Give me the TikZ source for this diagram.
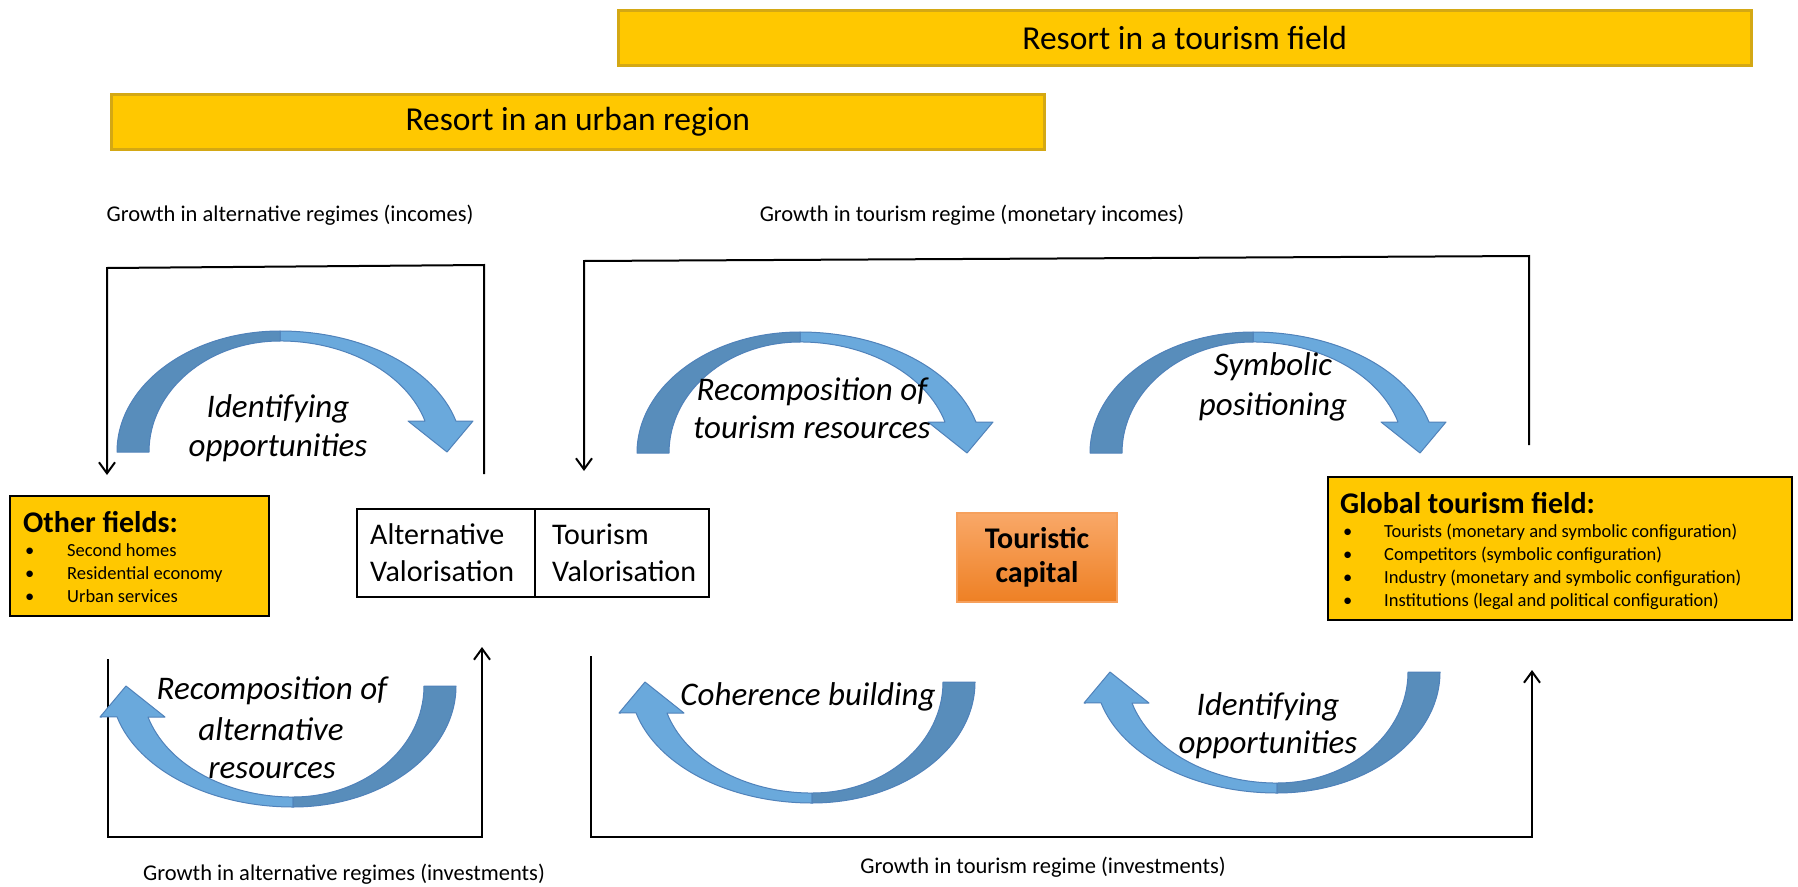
\documentclass[tikz,border=0pt]{standalone}
\usepackage{fontspec}
\setmainfont{Carlito}
\usetikzlibrary{arrows.meta}

\definecolor{gold}{RGB}{255,200,0}
\definecolor{goldedge}{RGB}{212,168,20}
\definecolor{arcdark}{RGB}{88,141,187}
\definecolor{arclight}{RGB}{106,169,220}
\definecolor{arcedge}{RGB}{80,130,186}
\definecolor{orangetop}{RGB}{249,168,104}
\definecolor{orangebot}{RGB}{238,128,36}
\definecolor{orangeedge}{RGB}{246,160,92}

% one bullet line of a field box
\newcommand\bulletline[2]{\makebox[#1][l]{\textbullet}#2}

\tikzset{
  % ribbon-like curved arrow: tail at the origin, bending up, head on the right
  curvedarrow/.pic={
    \path[arcfront] (163,-121)
      arc[start angle=270, end angle=345.2, x radius=182, y radius=121]
      -- (356,-31) -- (330,0) -- (291,-31) -- (308,-31)
      arc[start angle=343.8, end angle=270, x radius=151, y radius=111]
      -- cycle;
    \path[arcback] (0,0)
      arc[start angle=180, end angle=270, x radius=163, y radius=121]
      -- (163,-111)
      arc[start angle=270, end angle=180, x radius=131, y radius=111]
      -- cycle;
  }
}

\begin{document}
\begin{tikzpicture}[x=1pt,y=-1pt,
  banner/.style={fill=gold, draw=goldedge, line width=2.5pt, inner sep=0pt,
    font=\fontsize{33.5}{40}\selectfont},
  fieldbox/.style={fill=gold, draw=black, line width=2pt, inner sep=0pt, anchor=north west},
  valbox/.style={draw=black, line width=2pt, inner sep=0pt, anchor=north west, minimum height=88pt},
  capbox/.style={draw=orangeedge, line width=1.5pt, top color=orangetop, bottom color=orangebot,
    inner sep=0pt, minimum width=160pt, minimum height=89pt,
    font=\fontsize{30}{34}\selectfont\bfseries, align=center},
  boxtext/.style={font=\fontsize{30}{36}\selectfont, inner sep=0pt, anchor=base west},
  fieldtitle/.style={font=\fontsize{30}{36}\selectfont\bfseries, inner sep=0pt, anchor=base west},
  fielditem/.style={font=\fontsize{18.5}{22}\selectfont, inner sep=0pt, anchor=base west},
  flowlabel/.style={font=\fontsize{22.5}{27}\selectfont, inner sep=0pt, text height=16pt, text depth=5pt},
  arcline/.style={font=\fontsize{33}{39}\selectfont\itshape, inner sep=0pt, text height=24pt, text depth=8pt},
  loopline/.style={draw=black, line width=2pt, line join=miter},
  looparrow/.style={loopline, -{Straight Barb[length=11pt,width=16pt]}},
  arcfront/.style={fill=arclight, draw=arcedge, line width=1pt, line join=round},
  arcback/.style={fill=arcdark, draw=arcedge, line width=1pt, line join=round},
]
\useasboundingbox (0,0) rectangle (1798,886);
\fill[white] (0,0) rectangle (1798,886);

% banners
\node[banner, minimum width=1133pt, minimum height=55pt, anchor=north west] (fieldbanner) at (617,9) {Resort in a tourism field};
\node[banner, minimum width=933pt, minimum height=55pt, anchor=north west] (urbanbanner) at (110,93) {Resort in an urban region};

% feedback loops
\coordinate (ti1) at (484,474);
\coordinate (ti2) at (484,265);
\coordinate (ti3) at (107,268);
\coordinate (ti4) at (107,475);
\draw[looparrow] (ti1) -- (ti2) -- (ti3) -- (ti4);

\coordinate (tt1) at (1529,445);
\coordinate (tt2) at (1529,256);
\coordinate (tt3) at (584,261);
\coordinate (tt4) at (584,471);
\draw[looparrow] (tt1) -- (tt2) -- (tt3) -- (tt4);

\coordinate (bi1) at (108,659);
\coordinate (bi2) at (108,837);
\coordinate (bi3) at (482,837);
\coordinate (bi4) at (482,647);
\draw[looparrow] (bi1) -- (bi2) -- (bi3) -- (bi4);

\coordinate (bt1) at (591,656);
\coordinate (bt2) at (591,837);
\coordinate (bt3) at (1532,837);
\coordinate (bt4) at (1532,670);
\draw[looparrow] (bt1) -- (bt2) -- (bt3) -- (bt4);

% flow labels
\node[flowlabel] (incalt) at (290,216) {Growth in alternative regimes (incomes)};
\node[flowlabel] (inctour) at (972,216) {Growth in tourism regime (monetary incomes)};
\node[flowlabel] (invalt) at (344,875) {Growth in alternative regimes (investments)};
\node[flowlabel] (invtour) at (1043,868) {Growth in tourism regime (investments)};

% curved process arrows
\pic (arcidentify) at (117,452) {curvedarrow};
\pic (arcrecomp) at (637,453) {curvedarrow};
\pic (arcsymbolic) at (1090,453) {curvedarrow};
\pic[rotate=180] (arcaltres) at (456,686) {curvedarrow};
\pic[rotate=180] (arccoherence) at (975,682) {curvedarrow};
\pic[rotate=180] (arcopport) at (1440,672) {curvedarrow};

% process labels
\node[arcline] (la1) at (278,409.5) {Identifying};
\node[arcline] (la2) at (278,448.5) {opportunities};
\node[arcline] (lb1) at (812,392) {Recomposition of};
\node[arcline] (lb2) at (812,430) {tourism resources};
\node[arcline] (lc1) at (1273,367) {Symbolic};
\node[arcline] (lc2) at (1273,407) {positioning};
\node[arcline] (ld1) at (272,691) {Recomposition of};
\node[arcline] (ld2) at (271,732) {alternative};
\node[arcline] (ld3) at (272,770) {resources};
\node[arcline] (le1) at (808,697) {Coherence building};
\node[arcline] (lf1) at (1268,707) {Identifying};
\node[arcline] (lf2) at (1268,745) {opportunities};

% other fields
\node[fieldbox, minimum width=259pt, minimum height=120pt] (otherbox) at (9,495) {};
\node[fieldtitle] (othertitle) at (23,532) {Other fields:};
\node[fielditem] (oth1) at (25,556) {\bulletline{42pt}{Second homes}};
\node[fielditem] (oth2) at (25,579) {\bulletline{42pt}{Residential economy}};
\node[fielditem] (oth3) at (25,602) {\bulletline{42pt}{Urban services}};

% valorisation boxes
\node[valbox, minimum width=178pt] (altbox) at (356,508) {};
\node[valbox, minimum width=174pt] (tourbox) at (534,508) {};
\node[boxtext] (alt1) at (370,544) {Alternative};
\node[boxtext] (alt2) at (370,581) {Valorisation};
\node[boxtext] (tour1) at (552,544) {Tourism};
\node[boxtext] (tour2) at (552,581) {Valorisation};

% touristic capital
\node[capbox] (capital) at (1037,557.5) {Touristic\\capital};

% global tourism field
\node[fieldbox, minimum width=464pt, minimum height=143pt] (globalbox) at (1327,476) {};
\node[fieldtitle] (globaltitle) at (1340,513) {Global tourism field:};
\node[fielditem] (gl1) at (1343,537) {\bulletline{41pt}{Tourists (monetary and symbolic configuration)}};
\node[fielditem] (gl2) at (1343,560) {\bulletline{41pt}{Competitors (symbolic configuration)}};
\node[fielditem] (gl3) at (1343,583) {\bulletline{41pt}{Industry (monetary and symbolic configuration)}};
\node[fielditem] (gl4) at (1343,606) {\bulletline{41pt}{Institutions (legal and political configuration)}};
\end{tikzpicture}
\end{document}
